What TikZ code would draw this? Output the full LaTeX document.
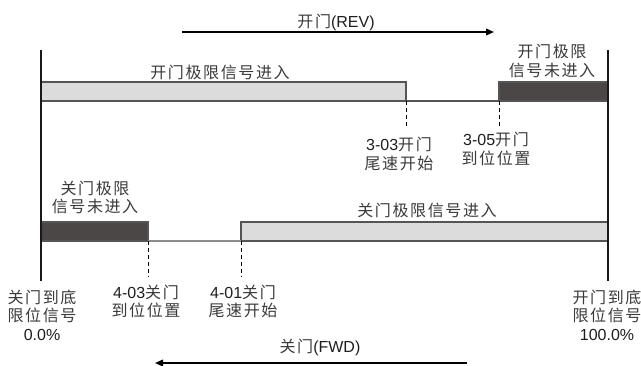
\documentclass[tikz,border=0pt]{standalone}
\usepackage{fontspec}
\setmainfont{Liberation Sans}
\newfontfamily\cjkfont[LetterSpace=10]{Noto Sans CJK SC}
\newcommand\zh[1]{{\cjkfont\color{cjktxt}#1}}
\usetikzlibrary{arrows.meta}
\definecolor{barlight}{HTML}{DCDCDC}
\definecolor{bardark}{HTML}{4B4746}
\definecolor{barline}{HTML}{555555}
\definecolor{txt}{HTML}{1E1E1E}
\definecolor{cjktxt}{HTML}{3A3A3A}

\begin{document}
\begin{tikzpicture}[x=0.75pt,y=-0.75pt,
  label/.style={inner sep=0pt,align=center,text=txt,font=\fontsize{12}{13.9}\selectfont},
  limit/.style={line width=1.9pt,black!90},
  lightbar/.style={fill=barlight,draw=barline,line width=0.9pt},
  darkbar/.style={fill=bardark,draw=barline,line width=0.9pt},
  guide/.style={line width=0.7pt,dash pattern=on 3pt off 2.2pt},
  move/.style={line width=1.1pt,-{Triangle[length=6pt,width=5pt]}}]
  \useasboundingbox (0,0) rectangle (641,365);
  \coordinate (A) at (41,50); \coordinate (B) at (608,50); \coordinate (C) at (608,281); \coordinate (D) at (41,281);
  \coordinate (E) at (406,101); \coordinate (F) at (499,82); \coordinate (G) at (148,241); \coordinate (H) at (241,222);
  % open side (top)
  \draw[lightbar] (41,82) rectangle (E);
  \draw[darkbar] (F) rectangle (608,101);
  \draw[draw=barline,line width=0.9pt] (E)--(499,101);
  % close side (bottom)
  \draw[darkbar] (41,222) rectangle (G);
  \draw[lightbar] (H) rectangle (608,241);
  \draw[draw=black!45,line width=1.1pt] (G)--(241,241);
  \foreach \x/\y/\z in {406/101/127,499/101/127,148/241/277,241/241/277}\draw[guide](\x,\y)--(\x,\z);
  \draw[limit] (A)--(D) (B)--(C);
  % directions
  \coordinate (R1) at (182,32); \coordinate (R2) at (494,32);
  \coordinate (W1) at (467,363); \coordinate (W2) at (155,363);
  \draw[move] (R1)--(R2);
  \draw[move] (W1)--(W2);
  \node[label] (rev) at (336,22) {\zh{开门}(REV)};
  \node[label] (fwd) at (320,347) {\zh{关门}(FWD)};
  \node[label] (openin) at (220,72) {\zh{开门极限信号进入}};
  \node[label] (openout) at (552,61) {\zh{开门极限}\\\zh{信号未进入}};
  \node[label] (p303) at (399,154) {3-03\zh{开门}\\\zh{尾速开始}};
  \node[label] (p305) at (496,149) {3-05\zh{开门}\\\zh{到位位置}};
  \node[label] (closeout) at (95,197.5) {\zh{关门极限}\\\zh{信号未进入}};
  \node[label] (closein) at (427,210) {\zh{关门极限信号进入}};
  \node[label] (p403) at (146,301.5) {4-03\zh{关门}\\\zh{到位位置}};
  \node[label] (p401) at (243,301.5) {4-01\zh{关门}\\\zh{尾速开始}};
  \node[label] (shut) at (42,315) {\zh{关门到底}\\\zh{限位信号}\\0.0\%};
  \node[label] (full) at (607,315) {\zh{开门到底}\\\zh{限位信号}\\100.0\%};
\end{tikzpicture}
\end{document}
